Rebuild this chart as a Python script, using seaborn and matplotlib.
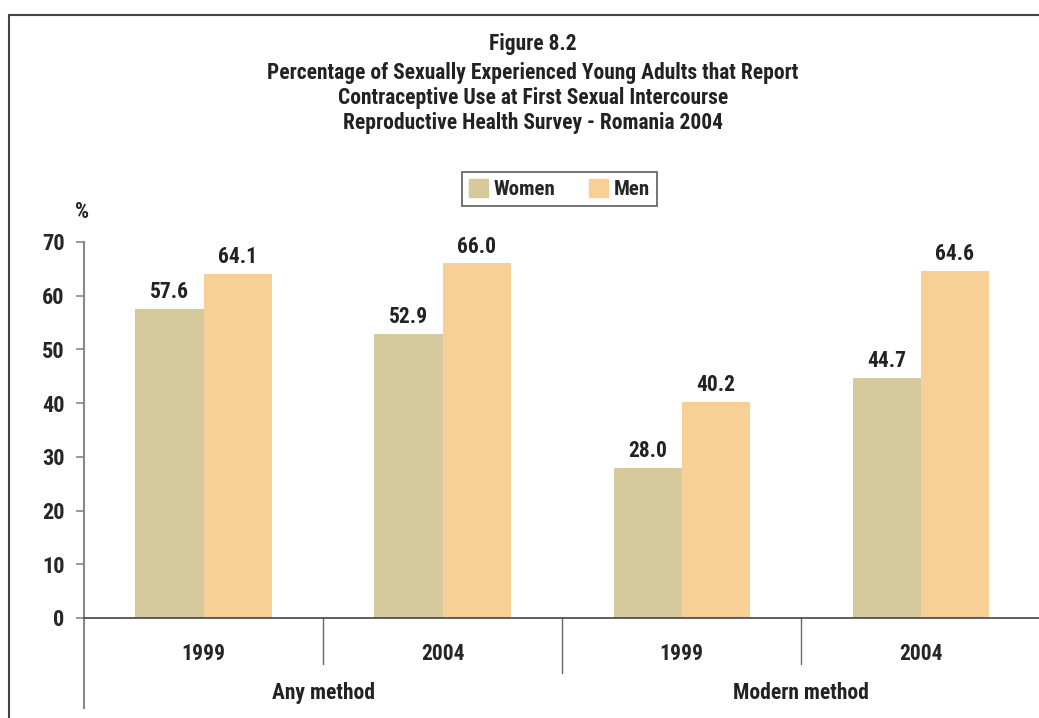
import matplotlib
matplotlib.use("Agg")
import matplotlib.pyplot as plt
import matplotlib.patches as mpatches
import pandas as pd
import seaborn as sns

# Chart data
title_lines = ["Figure 8.2",
               "Percentage of Sexually Experienced Young Adults that Report",
               "Contraceptive Use at First Sexual Intercourse",
               "Reproductive Health Survey - Romania 2004"]
groups = ["Any method", "Modern method"]
years = ["1999", "2004"]
series = ["Women", "Men"]
women = [57.6, 52.9, 28.0, 44.7]
men = [64.1, 66.0, 40.2, 64.6]
colors = ["#d6ca9c", "#f9cf98"]

sns.set_style("white")
plt.rcParams["font.family"] = ["Roboto Condensed", "DejaVu Sans"]
plt.rcParams["font.weight"] = "bold"

# Long-form table
cats = [g + " " + y for g in groups for y in years]
df = pd.DataFrame({
    "cat": cats * 2,
    "sex": [series[0]] * 4 + [series[1]] * 4,
    "value": women + men,
})

fig = plt.figure(figsize=(10.39, 7.18), dpi=100)
ax = fig.add_axes([0.0808, 0.1393, 0.9205, 0.5237])

sns.barplot(data=df, x="cat", y="value", hue="sex", order=cats,
            hue_order=series, palette=colors, width=0.57,
            saturation=1, linewidth=0, ax=ax, legend=False)

ax.set_ylim(0, 70)
ax.set_xlim(-0.5, 3.5)
ax.set_yticks(range(0, 71, 10))
ax.set_xlabel("")
ax.set_ylabel("")
ax.set_xticks(range(4), years * 2)
ax.tick_params(axis="x", length=0, pad=18, labelsize=15.5)
ax.tick_params(axis="y", left=True, length=6, width=1.2, color="#888888",
               direction="out", pad=8, labelsize=16)

for s in ["top", "right"]:
    ax.spines[s].set_visible(False)
ax.spines["left"].set_color("#888888")
ax.spines["left"].set_linewidth(1.5)
ax.spines["left"].set_bounds(-16.8, 70)
ax.spines["bottom"].set_color("#444444")
ax.spines["bottom"].set_linewidth(1.2)

# data labels
for cont in ax.containers:
    ax.bar_label(cont, fmt="%.1f", padding=4, fontsize=15.5, fontweight="bold",
                 color="#222222")

# category separators below the axis
trans = ax.get_xaxis_transform()
for xb in [0.5, 1.5, 2.5]:
    depth = -0.146 if xb == 1.5 else -0.122
    ax.plot([xb, xb], [0, depth], transform=trans, color="#666666",
            lw=1, clip_on=False)

# group labels
for i, g in enumerate(groups):
    ax.text(i * 2 + 0.5, -0.2, g, transform=trans, ha="center", va="center",
            fontsize=15.5, fontweight="bold", color="#222222")

# title
for txt, yy in zip(title_lines, [0.9387, 0.8983, 0.8635, 0.8287]):
    fig.text(0.513, yy, txt, ha="center", va="center", fontsize=15.5,
             fontweight="bold", color="#222222")

fig.text(0.079, 0.705, "%", ha="center", va="center", fontsize=16,
         fontweight="bold", color="#222222")

# legend
handles = [mpatches.Patch(color=c, label=s) for c, s in zip(colors, series)]
leg = fig.legend(handles=handles, loc="upper center", ncol=2,
                 bbox_to_anchor=(0.5385, 0.7604), borderaxespad=0,
                 frameon=True, fancybox=False,
                 handlelength=0.9, handleheight=0.9, handletextpad=0.3,
                 columnspacing=1.6, borderpad=0.35,
                 prop={"size": 15, "weight": "bold"})
leg.get_frame().set_edgecolor("#333333")
leg.get_frame().set_linewidth(1.2)

# outer frame
fig.add_artist(mpatches.Rectangle((0.0087, -0.1), 1.2, 1.0791,
                                  transform=fig.transFigure, fill=False,
                                  edgecolor="#444444", lw=1.5))

fig.savefig("out.png", dpi=100)
